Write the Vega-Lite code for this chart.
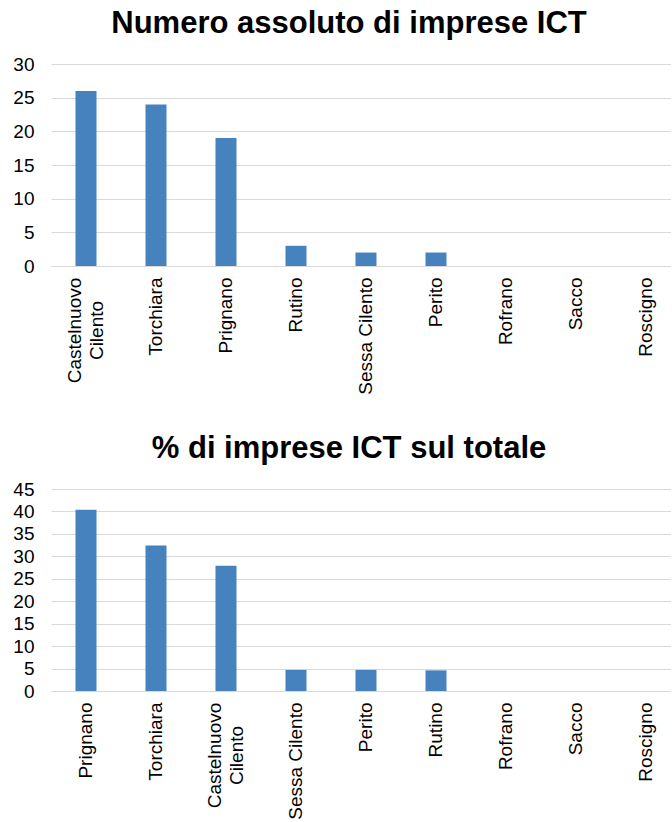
{
  "$schema": "https://vega.github.io/schema/vega-lite/v6.json",
  "padding": {"left": 12, "top": 8, "right": 0, "bottom": 0},
  "spacing": 38,
  "datasets": {
    "assoluto": [
      {"comune": "Castelnuovo Cilento", "imprese": 26},
      {"comune": "Torchiara", "imprese": 24},
      {"comune": "Prignano", "imprese": 19},
      {"comune": "Rutino", "imprese": 3},
      {"comune": "Sessa Cilento", "imprese": 2},
      {"comune": "Perito", "imprese": 2},
      {"comune": "Rofrano", "imprese": 0},
      {"comune": "Sacco", "imprese": 0},
      {"comune": "Roscigno", "imprese": 0}
    ],
    "percentuale": [
      {"comune": "Prignano", "quota": 40.4},
      {"comune": "Torchiara", "quota": 32.4},
      {"comune": "Castelnuovo Cilento", "quota": 27.9},
      {"comune": "Sessa Cilento", "quota": 4.7},
      {"comune": "Perito", "quota": 4.7},
      {"comune": "Rutino", "quota": 4.6},
      {"comune": "Rofrano", "quota": 0},
      {"comune": "Sacco", "quota": 0},
      {"comune": "Roscigno", "quota": 0}
    ]
  },
  "config": {
    "font": "Liberation Sans",
    "view": {"stroke": null},
    "title": {"font": "Liberation Sans", "fontSize": 31, "fontWeight": "bold", "color": "#000000", "offset": 15, "anchor": "middle", "frame": "group", "dx": -12},
    "axis": {"labelFont": "Liberation Sans", "labelFontSize": 19, "labelColor": "#000000", "ticks": false, "title": null, "labelOverlap": false},
    "axisY": {"domain": false, "gridColor": "#d9d9d9", "gridWidth": 1, "labelPadding": 17},
    "axisX": {"grid": false, "domainColor": "#d9d9d9", "domainWidth": 1, "labelAngle": -90, "labelLineHeight": 22,
      "labelExpr": "datum.value == 'Castelnuovo Cilento' ? ['Castelnuovo', 'Cilento'] : datum.label",
      "labelAlign": {"condition": {"test": "datum.value == 'Castelnuovo Cilento'", "value": "center"}, "value": "right"},
      "labelPadding": {"condition": {"test": "datum.value == 'Castelnuovo Cilento'", "value": 64}, "value": 11},
      "labelOffset": {"condition": {"test": "datum.value == 'Castelnuovo Cilento'", "value": -11}, "value": 0}
    },
    "bar": {"color": "#4682BE"}
  },
  "vconcat": [
    {
      "title": "Numero assoluto di imprese ICT",
      "width": 620,
      "height": 202,
      "data": {"name": "assoluto"},
      "mark": "bar",
      "encoding": {
        "x": {"field": "comune", "type": "nominal", "sort": null,
          "scale": {"paddingInner": 0.7, "paddingOuter": 0.2786, "align": 0.628}},
        "y": {"field": "imprese", "type": "quantitative",
          "scale": {"domain": [0, 30], "nice": false},
          "axis": {"values": [0, 5, 10, 15, 20, 25, 30]}}
      }
    },
    {
      "title": "% di imprese ICT sul totale",
      "width": 620,
      "height": 202,
      "data": {"name": "percentuale"},
      "mark": "bar",
      "encoding": {
        "x": {"field": "comune", "type": "nominal", "sort": null,
          "scale": {"paddingInner": 0.7, "paddingOuter": 0.2786, "align": 0.628}},
        "y": {"field": "quota", "type": "quantitative",
          "scale": {"domain": [0, 45], "nice": false},
          "axis": {"values": [0, 5, 10, 15, 20, 25, 30, 35, 40, 45]}}
      }
    }
  ]
}
